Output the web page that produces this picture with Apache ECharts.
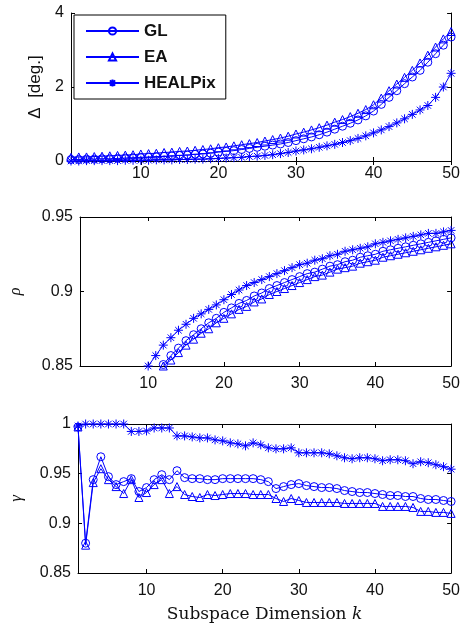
<!DOCTYPE html>
<html>
<head>
<meta charset="utf-8">
<script src="https://cdn.jsdelivr.net/npm/echarts@6/dist/echarts.min.js"></script>
<style>
html,body{margin:0;padding:0;background:#fff;}
#chart{width:463px;height:625px;}
</style>
</head>
<body>
<div id="chart"></div>
<script>
// ---- data ----
var kValues = [];
for (var i = 1; i <= 50; i++) kValues.push(String(i));
var xTickLabels = ['10', '20', '30', '40', '50'];
var seriesNames = ['GL', 'EA', 'HEALPix'];

// Panel 1: Delta [deg.]
var deltaGL = [0.04,0.04,0.05,0.05,0.06,0.06,0.07,0.08,0.09,0.10,
  0.11,0.12,0.13,0.14,0.15,0.16,0.18,0.19,0.21,0.24,
  0.26,0.28,0.31,0.34,0.37,0.40,0.43,0.46,0.50,0.55,
  0.60,0.65,0.71,0.78,0.86,0.94,1.02,1.11,1.22,1.35,
  1.53,1.72,1.90,2.09,2.27,2.45,2.67,2.90,3.13,3.35];
var deltaEA = [0.10,0.11,0.11,0.12,0.13,0.14,0.15,0.16,0.17,0.19,
  0.20,0.21,0.23,0.24,0.26,0.27,0.29,0.31,0.33,0.36,
  0.38,0.41,0.44,0.47,0.50,0.54,0.58,0.62,0.67,0.73,
  0.78,0.84,0.90,0.97,1.05,1.12,1.20,1.29,1.39,1.52,
  1.70,1.90,2.08,2.26,2.45,2.65,2.86,3.08,3.30,3.50];
var deltaHP = [0.00,0.00,0.01,0.01,0.01,0.01,0.01,0.02,0.02,0.02,
  0.02,0.03,0.03,0.03,0.04,0.04,0.05,0.05,0.06,0.07,
  0.08,0.09,0.10,0.12,0.13,0.15,0.17,0.20,0.23,0.27,
  0.30,0.33,0.37,0.41,0.45,0.50,0.55,0.61,0.68,0.76,
  0.84,0.93,1.03,1.14,1.26,1.38,1.50,1.72,2.00,2.37];

// Panel 2: rho (values below 0.85 are off-chart)
var rhoGL = [null,null,null,null,null,null,null,null,null,null,
  null,0.851,0.857,0.862,0.867,0.871,0.875,0.879,0.882,0.886,
  0.889,0.892,0.894,0.897,0.899,0.902,0.904,0.906,0.908,0.910,
  0.912,0.913,0.915,0.917,0.918,0.920,0.921,0.923,0.924,0.925,
  0.927,0.928,0.929,0.930,0.931,0.932,0.933,0.934,0.935,0.936];
var rhoEA = [null,null,null,null,null,null,null,null,null,null,
  null,0.850,0.854,0.859,0.864,0.868,0.872,0.875,0.879,0.882,
  0.885,0.888,0.890,0.893,0.895,0.898,0.900,0.902,0.904,0.906,
  0.908,0.910,0.911,0.913,0.915,0.916,0.917,0.919,0.920,0.921,
  0.923,0.924,0.925,0.926,0.927,0.928,0.929,0.930,0.931,0.932];
var rhoHP = [null,null,null,null,null,null,null,null,null,0.850,
  0.857,0.864,0.869,0.874,0.878,0.882,0.885,0.888,0.891,0.8945,
  0.898,0.901,0.904,0.906,0.908,0.910,0.912,0.914,0.916,0.918,
  0.919,0.921,0.922,0.924,0.925,0.927,0.928,0.929,0.930,0.932,
  0.933,0.934,0.935,0.936,0.937,0.938,0.939,0.939,0.940,0.941];

// Panel 3: gamma
var gammaGL = [0.997,0.880,0.944,0.967,0.947,0.939,0.942,0.945,0.932,0.936,
  0.944,0.949,0.944,0.953,0.946,0.945,0.945,0.944,0.944,0.945,
  0.945,0.945,0.945,0.945,0.944,0.942,0.935,0.937,0.939,0.940,
  0.938,0.937,0.936,0.936,0.935,0.933,0.932,0.931,0.931,0.930,
  0.929,0.928,0.928,0.927,0.927,0.925,0.924,0.924,0.923,0.922];
var gammaEA = [0.997,0.878,0.941,0.955,0.944,0.937,0.930,0.944,0.926,0.931,
  0.939,0.944,0.930,0.937,0.929,0.927,0.926,0.929,0.928,0.929,
  0.930,0.930,0.930,0.929,0.929,0.929,0.925,0.922,0.925,0.923,
  0.921,0.921,0.921,0.921,0.921,0.920,0.920,0.920,0.920,0.920,
  0.917,0.917,0.917,0.917,0.916,0.912,0.912,0.911,0.911,0.910];
var gammaHP = [0.998,1.000,1.000,1.000,1.000,1.000,1.000,0.9925,0.9925,0.993,
  0.996,0.996,0.996,0.988,0.988,0.987,0.986,0.986,0.984,0.983,
  0.981,0.980,0.978,0.981,0.979,0.976,0.975,0.975,0.976,0.971,
  0.971,0.971,0.971,0.970,0.968,0.966,0.965,0.966,0.966,0.965,
  0.963,0.964,0.964,0.963,0.960,0.962,0.961,0.959,0.957,0.9545];

// y axis ranges / ticks
var yRanges = [
  {min: 0, max: 4, interval: 2},
  {min: 0.85, max: 0.95, interval: 0.05},
  {min: 0.85, max: 1, interval: 0.05}
];

// ---- chart ----
var BLUE = '#0000ff';
var starPath = 'path://M5,0L5,10M0,5L10,5M1.4,1.4L8.6,8.6M1.4,8.6L8.6,1.4';
var markers = {
  GL: {symbol: 'circle', size: 8},
  EA: {symbol: 'triangle', size: 8},
  HEALPix: {symbol: starPath, size: 9}
};

var grids = [
  {left: 71, top: 13, width: 384, height: 148},
  {left: 71, top: 217, width: 384, height: 149},
  {left: 71, top: 424, width: 384, height: 149}
];

var FONT = 'Liberation Sans, Arial, sans-serif';
var tickInterval = function (idx, val) { return xTickLabels.indexOf(String(val)) >= 0; };
var xLabelMargins = [5, 10, 10];

var xAxes = [], yAxes = [];
var yNames = [
  {name: '\u0394  [deg.]', gap: 26, style: {fontFamily: FONT, fontSize: 17, color: '#111'}},
  {name: '\u03c1', gap: 56, style: {fontFamily: 'Liberation Serif, serif', fontStyle: 'italic', fontSize: 16, color: '#111'}},
  {name: '\u03b3', gap: 53, style: {fontFamily: 'Liberation Serif, serif', fontStyle: 'italic', fontSize: 17, color: '#111'}}
];
for (var g = 0; g < 3; g++) {
  var xb = {
    type: 'category', gridIndex: g, data: kValues, boundaryGap: false, position: 'bottom',
    axisLine: {show: true, lineStyle: {color: '#000', width: 1}},
    axisTick: {show: true, inside: true, length: 4, interval: tickInterval, lineStyle: {color: '#000'}},
    axisLabel: {show: true, interval: tickInterval, margin: xLabelMargins[g], fontFamily: FONT, fontSize: 16, color: '#111'},
    splitLine: {show: false}
  };
  if (g === 2) {
    xb.name = 'Subspace Dimension {i|k}';
    xb.nameLocation = 'middle';
    xb.nameGap = 33;
    xb.nameTextStyle = {fontFamily: 'DejaVu Serif, serif', fontSize: 17, color: '#111',
      rich: {i: {fontFamily: 'DejaVu Serif, serif', fontStyle: 'italic', fontSize: 17, color: '#111'}}};
  }
  xAxes.push(xb);
  xAxes.push({
    type: 'category', gridIndex: g, data: kValues, boundaryGap: false, position: 'top',
    axisLine: {show: true, lineStyle: {color: '#000', width: 1}},
    axisTick: {show: true, inside: true, length: 4, interval: tickInterval, lineStyle: {color: '#000'}},
    axisLabel: {show: false}, splitLine: {show: false}
  });
  var r = yRanges[g];
  yAxes.push({
    type: 'value', gridIndex: g, min: r.min, max: r.max, interval: r.interval, position: 'left',
    name: yNames[g].name, nameLocation: 'middle', nameRotate: 90, nameGap: yNames[g].gap,
    nameTextStyle: yNames[g].style,
    axisLine: {show: true, lineStyle: {color: '#000', width: 1}},
    axisTick: {show: true, inside: true, length: 4, lineStyle: {color: '#000'}},
    axisLabel: {show: true, margin: 7, fontFamily: FONT, fontSize: 16, color: '#111'},
    splitLine: {show: false}
  });
  yAxes.push({
    type: 'value', gridIndex: g, min: r.min, max: r.max, interval: r.interval, position: 'right',
    axisLine: {show: true, lineStyle: {color: '#000', width: 1}},
    axisTick: {show: true, inside: true, length: 4, lineStyle: {color: '#000'}},
    axisLabel: {show: false}, splitLine: {show: false}
  });
}

var panelData = [
  [deltaGL, deltaEA, deltaHP],
  [rhoGL, rhoEA, rhoHP],
  [gammaGL, gammaEA, gammaHP]
];
var series = [];
for (var p = 0; p < 3; p++) {
  for (var s = 0; s < 3; s++) {
    var nm = seriesNames[s];
    series.push({
      name: nm, type: 'line', xAxisIndex: 2 * p, yAxisIndex: 2 * p,
      data: panelData[p][s],
      symbol: markers[nm].symbol, symbolSize: markers[nm].size, showAllSymbol: true,
      lineStyle: {color: BLUE, width: 1},
      itemStyle: {color: 'rgba(255,255,255,0)', borderColor: BLUE, borderWidth: 1},
      emphasis: {disabled: true},
      animation: false, connectNulls: false
    });
  }
}

var chart = echarts.init(document.getElementById('chart'), null, {renderer: 'canvas'});
chart.setOption({
  backgroundColor: '#fff',
  animation: false,
  grid: grids,
  xAxis: xAxes,
  yAxis: yAxes,
  legend: {
    data: seriesNames, orient: 'vertical', left: 74, top: 15,
    padding: [7, 10, 7, 11], itemWidth: 53, itemHeight: 9, itemGap: 8,
    backgroundColor: '#fff', borderColor: '#000', borderWidth: 1,
    textStyle: {fontFamily: FONT, fontWeight: 'bold', fontSize: 17, color: '#111', lineHeight: 18},
    selectedMode: false
  },
  series: series
});
</script>
</body>
</html>
